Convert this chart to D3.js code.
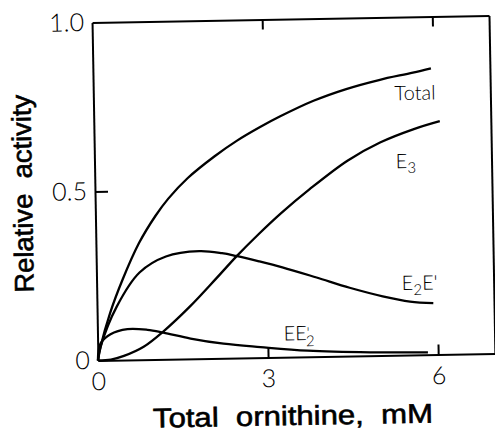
<!DOCTYPE html>
<html>
<head>
<meta charset="utf-8">
<script src="https://cdn.jsdelivr.net/npm/d3@7"></script>
<style>
  body { margin: 0; background: #fff; }
  .tick text { font-family: Lato, "Liberation Sans", sans-serif; font-weight: 300; font-size: 25px; fill: #000; }
  .axis path, .axis line { stroke: #000; stroke-width: 2; }
  .curve { fill: none; stroke: #000; stroke-width: 2.3; }
  .lbl { font-family: Lato, "Liberation Sans", sans-serif; font-weight: 300; font-size: 20px; }
  .title { font-family: "Liberation Sans", sans-serif; font-size: 27px; white-space: pre;
           stroke: #000; stroke-width: 0.6; }
</style>
</head>
<body>
<script>
let width = 495, height = 434;

// curves: [ornithine mM, relative activity]
let total = [[0, 0], [0.05, 0.04], [0.23, 0.14], [0.46, 0.238], [0.76, 0.345], [1.06, 0.425],
    [1.29, 0.475], [1.64, 0.535], [2.12, 0.598], [2.52, 0.643], [2.93, 0.682], [3.28, 0.712],
    [3.88, 0.757], [4.46, 0.79], [5.04, 0.815], [5.64, 0.835], [5.96, 0.847]];
let e3 = [[0, 0], [0.23, 0.002], [0.46, 0.012], [0.81, 0.038], [1.16, 0.082], [1.64, 0.155],
    [2.12, 0.238], [2.47, 0.3], [2.87, 0.365], [3.28, 0.427], [3.78, 0.495], [4.46, 0.578],
    [5.04, 0.63], [5.64, 0.668], [6.1, 0.69]];
let e2e = [[0, 0], [0.05, 0.04], [0.35, 0.159], [0.76, 0.258], [1.23, 0.304], [1.82, 0.318],
    [2.22, 0.311], [2.47, 0.302], [2.87, 0.285], [3.28, 0.266], [3.88, 0.234], [4.46, 0.202],
    [5.04, 0.175], [5.52, 0.158], [5.93, 0.152]];
let ee2 = [[0, 0], [0.05, 0.05], [0.23, 0.077], [0.53, 0.091], [0.88, 0.088], [1.16, 0.079],
    [1.64, 0.06], [2.22, 0.043], [2.87, 0.031], [3.7, 0.018], [4.8, 0.01], [5.82, 0.007]];

let xTicks = [0, 3, 6];
let yTicks = [0, 0.5, 1];
let yTickLabels = ["0", "0.5", "1.0"];

let x = d3.scaleLinear().domain([0, 7]).range([95, 492]);
let y = d3.scaleLinear().domain([0, 1]).range([357, 19]);

let svg = d3.select("body").append("svg")
    .attr("width", width)
    .attr("height", height);

// the scanned figure sits slightly tilted
let g = svg.append("g").attr("transform", "rotate(-1,293,190)");

g.append("g")
    .attr("class", "axis")
    .attr("transform", "translate(0," + y(0) + ")")
    .call(d3.axisBottom(x).tickValues(xTicks).tickSizeInner(-10).tickSizeOuter(0).tickPadding(12)
        .tickFormat(d3.format("d")));

g.append("g")
    .attr("class", "axis")
    .attr("transform", "translate(0," + y(1) + ")")
    .call(d3.axisTop(x).tickValues([3, 6]).tickSizeInner(-10).tickSizeOuter(0).tickFormat(""));

g.append("g")
    .attr("class", "axis")
    .attr("transform", "translate(" + x(0) + ",0)")
    .call(d3.axisLeft(y).tickValues(yTicks).tickSizeInner(-13).tickSizeOuter(0).tickPadding(8)
        .tickFormat((d, i) => yTickLabels[i]));

g.append("g")
    .attr("class", "axis")
    .attr("transform", "translate(" + x(7) + ",0)")
    .call(d3.axisRight(y).tickValues([]).tickSizeOuter(0));

g.selectAll(".tick line").filter(d => d === 0 || d === 1).remove();

let line = d3.line()
    .x(d => x(d[0]))
    .y(d => y(d[1]))
    .curve(d3.curveCatmullRom.alpha(0.5));

g.selectAll("path.curve")
    .data([total, e3, e2e, ee2])
    .enter().append("path")
    .attr("class", "curve")
    .attr("d", line);

// curve labels
g.append("text").attr("class", "lbl")
    .attr("x", x(5.31)).attr("y", y(0.775)).attr("dy", "0.35em")
    .text("Total");

let t3 = g.append("text").attr("class", "lbl")
    .attr("x", x(5.31)).attr("y", y(0.574)).attr("dy", "0.35em");
t3.append("tspan").text("E");
t3.append("tspan").attr("dy", 5).attr("font-size", 15).text("3");

let t2 = g.append("text").attr("class", "lbl")
    .attr("x", x(5.38)).attr("y", y(0.213)).attr("dy", "0.35em");
t2.append("tspan").text("E");
t2.append("tspan").attr("dy", 5).attr("font-size", 15).text("2");
t2.append("tspan").attr("dy", -5).text("E'");

let t1 = g.append("text").attr("class", "lbl")
    .attr("x", x(3.28)).attr("y", y(0.07)).attr("dy", "0.35em");
t1.append("tspan").text("EE");
t1.append("tspan").attr("dy", -2).attr("font-size", 15).text("'");
t1.append("tspan").attr("dx", -4).attr("dy", 8).attr("font-size", 15).text("2");

// axis titles
g.append("text").attr("class", "title")
    .attr("x", 289).attr("y", 425)
    .attr("text-anchor", "middle")
    .attr("textLength", 280).attr("lengthAdjust", "spacingAndGlyphs")
    .text("Total  ornithine,  mM");

g.append("text").attr("class", "title")
    .attr("transform", "translate(32,189) rotate(-90)")
    .attr("text-anchor", "middle")
    .attr("textLength", 198).attr("lengthAdjust", "spacingAndGlyphs")
    .text("Relative  activity");
</script>
</body>
</html>
